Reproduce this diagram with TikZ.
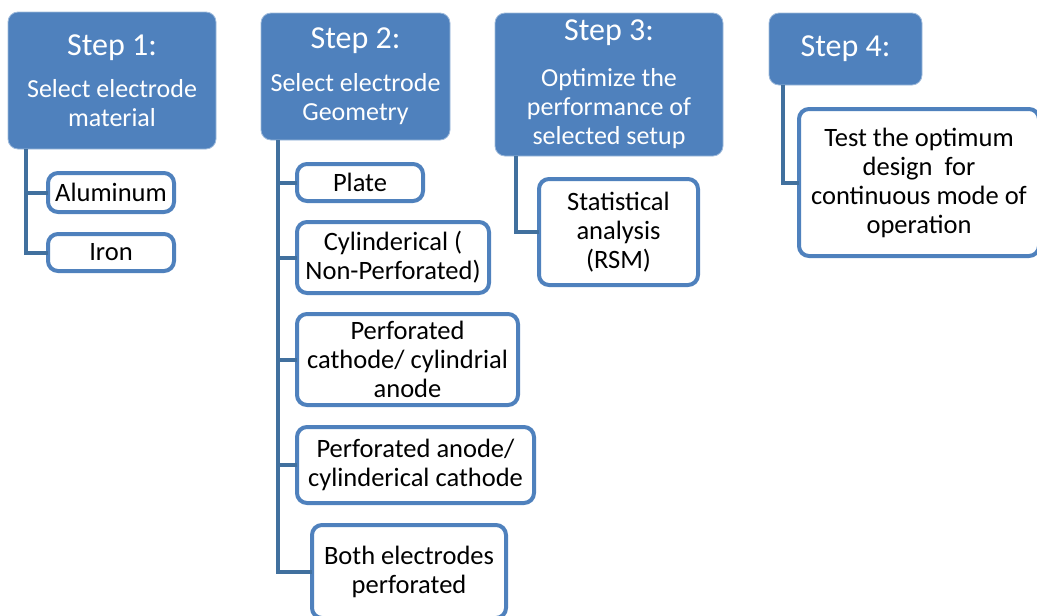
\documentclass[tikz,border=0pt]{standalone}
\usepackage{fontspec}
\setmainfont{Carlito}
\definecolor{stepblue}{HTML}{4F81BD}
\definecolor{connblue}{HTML}{41709E}
\begin{document}
\begin{tikzpicture}[x=1pt,y=-1pt,
  stepbox/.style={fill=stepblue, draw=stepblue!55!white, line width=0.8pt,
    rounded corners=10pt, text=white, align=center, inner sep=0pt, outer sep=0pt,
    anchor=north west, font=\fontsize{26}{29}\selectfont},
  subbox/.style={fill=white, draw=stepblue, line width=4pt, rounded corners=10pt,
    text=black, align=center, inner sep=0pt, outer sep=0pt, anchor=north west,
    font=\fontsize{26.5}{29}\selectfont},
  conn/.style={draw=connblue, line width=4pt}]
\useasboundingbox (0,0) rectangle (1037,616);
\clip (0,0) rectangle (1037,616);
% step boxes
\node[stepbox, minimum width=208pt, minimum height=137pt] (s1) at (8,12)
  {{\fontsize{32}{36}\selectfont Step 1:}\\[13pt]Select electrode\\material};
\node[stepbox, minimum width=189pt, minimum height=127pt] (s2) at (261,13)
  {{\fontsize{32}{36}\selectfont Step 2:}\\[14pt]Select electrode\\Geometry};
\node[stepbox, minimum width=228pt, minimum height=143pt] (s3) at (495,13)
  {{\fontsize{32}{36}\selectfont Step 3:}\\[17pt]Optimize the\\performance of\\selected setup};
\node[stepbox, minimum width=153pt, minimum height=72pt] (s4) at (769,13)
  {{\fontsize{32}{36}\selectfont Step 4:}};
% sub boxes
\node[subbox, minimum width=126pt, minimum height=39pt] (a1) at (48,173) {Aluminum};
\node[subbox, minimum width=126pt, minimum height=37pt] (a2) at (48,234) {Iron};
\node[subbox, minimum width=126pt, minimum height=37pt] (b1) at (297,164) {Plate};
\node[subbox, minimum width=192pt, minimum height=71pt] (b2) at (297,222) {Cylinderical (\\Non-Perforated)};
\node[subbox, minimum width=221pt, minimum height=91pt] (b3) at (297,314) {Perforated\\cathode/ cylindrial\\anode};
\node[subbox, minimum width=237pt, minimum height=76pt] (b4) at (297,427) {Perforated anode/\\cylinderical cathode};
\node[subbox, minimum width=194pt, minimum height=93pt] (b5) at (312,525) {Both electrodes\\perforated};
\node[subbox, minimum width=159pt, minimum height=106pt] (c1) at (539,179) {Statistical\\analysis\\(RSM)};
\node[subbox, minimum width=240pt, minimum height=147pt] (d1) at (799,109) {Test the optimum\\design~ for\\continuous mode of\\operation};
% connectors
\draw[conn] ([xshift=18pt]s1.south west) |- (a1.west);
\draw[conn] ([xshift=18pt]s1.south west) |- (a2.west);
\draw[conn] ([xshift=17pt]s2.south west) |- (b1.west);
\draw[conn] ([xshift=17pt]s2.south west) |- (b2.west);
\draw[conn] ([xshift=17pt]s2.south west) |- (b3.west);
\draw[conn] ([xshift=17pt]s2.south west) |- (b4.west);
\draw[conn] ([xshift=17pt]s2.south west) |- (b5.west);
\draw[conn] ([xshift=21pt]s3.south west) |- (c1.west);
\draw[conn] ([xshift=14pt]s4.south west) |- (d1.west);
\end{tikzpicture}
\end{document}
